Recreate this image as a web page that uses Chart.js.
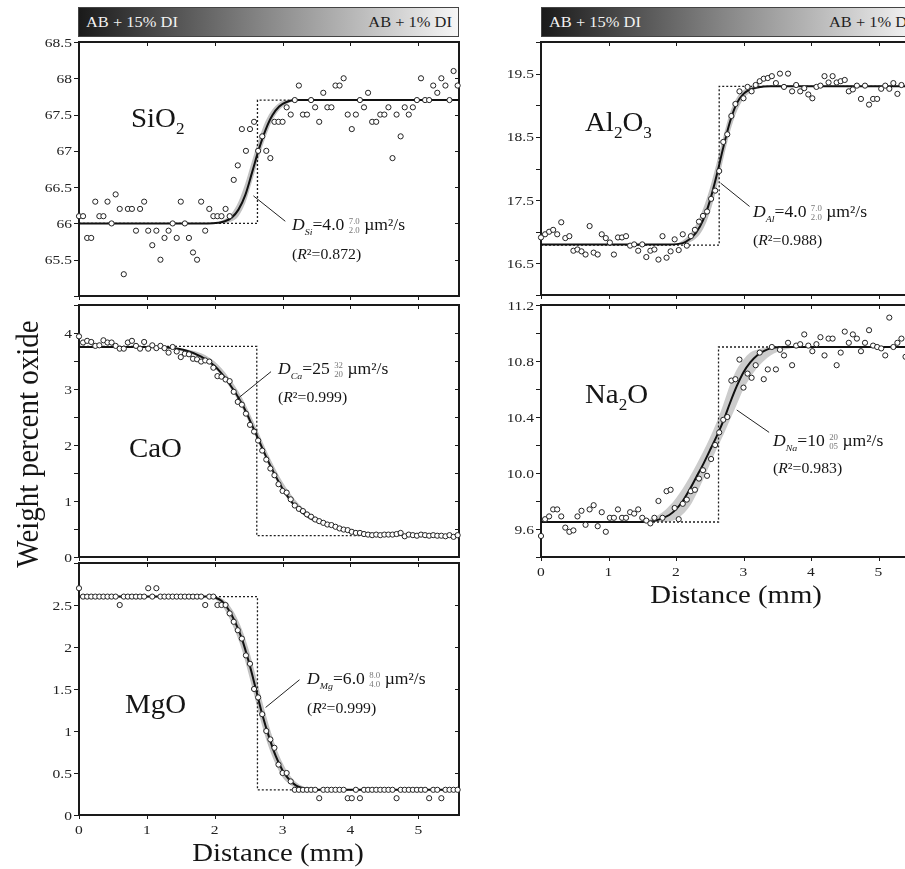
<!DOCTYPE html>
<html>
<head>
<meta charset="utf-8">
<script src="https://cdn.jsdelivr.net/npm/chart.js@4.4.1/dist/chart.umd.min.js"></script>
<style>
  html, body { margin: 0; padding: 0; background: #fff; width: 905px; height: 869px; overflow: hidden; }
  canvas { position: absolute; left: 0; top: 0; }
  .bar {
    position: absolute; top: 7px; height: 30px; box-sizing: border-box;
    border: 1px solid #444;
    background: linear-gradient(to right, #1a1a1a 0%, #4c4c4c 22%, #858585 48%, #bdbdbd 75%, #f6f6f6 100%);
    font: 15.5px "Liberation Serif", serif;
  }
  .bar span { position: absolute; top: 5px; white-space: nowrap; }
  .bar .l { left: 7px; color: #f2f2f2; transform: scaleX(1.06); transform-origin: left; }
  .bar .r { right: 6px; color: #1e1e1e; transform: scaleX(1.06); transform-origin: right; }
</style>
</head>
<body>
<div class="bar" style="left:78px;width:381px"><span class="l">AB + 15% DI</span><span class="r">AB + 1% DI</span></div>
<div class="bar" style="left:541px;width:378px"><span class="l">AB + 15% DI</span><span class="l" style="left:287px;color:#1e1e1e">AB + 1% DI</span></div>
<canvas id="si" width="930" height="869"></canvas>
<canvas id="ca" width="930" height="869"></canvas>
<canvas id="mg" width="930" height="869"></canvas>
<canvas id="al" width="930" height="869"></canvas>
<canvas id="na" width="930" height="869"></canvas>
<script>
// traverse positions (mm)
const distance = [0.00,0.06,0.12,0.18,0.24,0.30,0.36,0.42,0.48,0.54,0.60,0.66,0.72,0.78,0.84,0.90,0.96,1.02,1.08,1.14,
  1.20,1.26,1.32,1.38,1.44,1.50,1.56,1.62,1.68,1.74,1.80,1.86,1.92,1.98,2.04,2.10,2.16,2.22,2.28,2.34,
  2.40,2.46,2.52,2.58,2.64,2.70,2.76,2.82,2.88,2.94,3.00,3.06,3.12,3.18,3.24,3.30,3.36,3.42,3.48,3.54,
  3.60,3.66,3.72,3.78,3.84,3.90,3.96,4.02,4.08,4.14,4.20,4.26,4.32,4.38,4.44,4.50,4.56,4.62,4.68,4.74,
  4.80,4.86,4.92,4.98,5.04,5.10,5.16,5.22,5.28,5.34,5.40,5.46,5.52,5.58];
const xTicks = [0, 1, 2, 3, 4, 5];
const xTickLabels = ["0", "1", "2", "3", "4", "5"];

// SiO2
const siValues = [66.1,66.1,65.8,65.8,66.3,66.1,66.1,66.3,66.0,66.4,
  66.2,65.3,66.2,66.2,65.9,66.2,66.3,65.9,65.7,65.9,
  65.5,65.8,65.9,66.0,65.8,66.3,66.0,65.8,65.6,65.5,
  66.3,65.9,66.2,66.1,66.1,66.1,66.2,66.1,66.6,66.8,
  67.3,67.0,67.3,67.4,67.0,67.2,67.0,66.9,67.4,67.4,
  67.4,67.6,67.5,67.7,67.9,67.5,67.5,67.7,67.6,67.4,
  67.8,67.6,67.6,67.9,67.9,68.0,67.5,67.3,67.5,67.7,
  67.6,67.8,67.4,67.4,67.5,67.5,67.6,66.9,67.5,67.2,
  67.6,67.5,67.6,67.7,68.0,67.7,67.7,67.9,67.8,68.0,
  67.9,67.7,68.1,67.9];
const siFitX = [0, 1.9, 2.05, 2.15, 2.25, 2.35, 2.45, 2.55, 2.65, 2.75, 2.85, 2.95, 3.05, 3.2, 3.35, 5.6];
const siFitY = [66.0, 66.0, 66.01, 66.03, 66.08, 66.19, 66.39, 66.7, 67.02, 67.29, 67.49, 67.61, 67.67, 67.7, 67.7, 67.7];
const siBandX = [1.9, 2.05, 2.15, 2.25, 2.35, 2.45, 2.55, 2.65, 2.75, 2.85, 2.95, 3.05, 3.2, 3.35];
const siBandHi = [66.0, 66.02, 66.06, 66.14, 66.3, 66.55, 66.86, 67.16, 67.41, 67.57, 67.66, 67.7, 67.7, 67.7];
const siBandLo = [66.0, 66.0, 66.0, 66.03, 66.1, 66.28, 66.58, 66.9, 67.19, 67.42, 67.56, 67.64, 67.69, 67.7];
const siStepX = [0, 2.63, 2.63, 5.6];
const siStepY = [66.0, 66.0, 67.7, 67.7];
const siLeaderX = [2.57, 3.04];
const siLeaderY = [66.38, 66.03];
const siTicks = [65, 65.5, 66, 66.5, 67, 67.5, 68, 68.5];
const siTickLabels = ["", "65.5", "66", "66.5", "67", "67.5", "68", "68.5"];

// CaO
const caValues = [3.94,3.83,3.86,3.84,3.77,3.78,3.87,3.83,3.83,3.77,
  3.72,3.72,3.83,3.86,3.77,3.72,3.84,3.72,3.78,3.73,
  3.77,3.73,3.65,3.75,3.67,3.57,3.63,3.62,3.54,3.53,
  3.49,3.51,3.49,3.38,3.23,3.22,3.17,3.14,2.95,2.77,
  2.72,2.56,2.36,2.24,2.08,1.90,1.74,1.58,1.46,1.30,
  1.18,1.15,1.03,0.92,0.86,0.82,0.76,0.72,0.67,0.64,
  0.61,0.58,0.57,0.54,0.51,0.49,0.48,0.45,0.43,0.43,
  0.41,0.40,0.39,0.40,0.39,0.40,0.40,0.40,0.41,0.43,
  0.37,0.40,0.39,0.38,0.40,0.39,0.38,0.39,0.38,0.38,
  0.37,0.39,0.36,0.39];
const caFitX = [0, 1.0, 1.3, 1.6, 1.8, 2.0, 2.2, 2.4, 2.6, 2.8, 3.0, 3.2, 3.4, 3.6, 3.8, 4.0, 4.2, 4.5, 4.8, 5.6];
const caFitY = [3.75, 3.75, 3.74, 3.68, 3.58, 3.41, 3.12, 2.74, 2.22, 1.68, 1.22, 0.89, 0.7, 0.6, 0.53, 0.47, 0.43, 0.4, 0.39, 0.38];
const caBandX = [1.2, 1.5, 1.8, 2.0, 2.2, 2.4, 2.6, 2.8, 3.0, 3.2, 3.4, 3.6, 3.8, 4.0, 4.3, 4.6];
const caBandHi = [3.75, 3.72, 3.64, 3.49, 3.22, 2.85, 2.34, 1.8, 1.34, 1.0, 0.78, 0.65, 0.56, 0.49, 0.43, 0.4];
const caBandLo = [3.74, 3.68, 3.55, 3.37, 3.07, 2.67, 2.15, 1.62, 1.17, 0.86, 0.67, 0.57, 0.51, 0.46, 0.41, 0.39];
const caStepX = [0, 2.62, 2.62, 5.6];
const caStepY = [3.76, 3.76, 0.38, 0.38];
const caLeaderX = [2.33, 2.83];
const caLeaderY = [2.82, 3.31];
const caTicks = [0, 0.5, 1, 1.5, 2, 2.5, 3, 3.5, 4, 4.5];
const caTickLabels = ["0", "", "1", "", "2", "", "3", "", "4", ""];

// MgO
const mgValues = [2.7,2.6,2.6,2.6,2.6,2.6,2.6,2.6,2.6,2.6,
  2.5,2.6,2.6,2.6,2.6,2.6,2.6,2.7,2.6,2.7,
  2.6,2.6,2.6,2.6,2.6,2.6,2.6,2.6,2.6,2.6,
  2.6,2.5,2.6,2.6,2.5,2.5,2.5,2.4,2.3,2.2,
  2.1,1.9,1.8,1.5,1.4,1.2,1.0,0.9,0.8,0.6,
  0.5,0.5,0.4,0.3,0.3,0.3,0.3,0.3,0.3,0.2,
  0.3,0.3,0.3,0.3,0.3,0.3,0.2,0.2,0.3,0.2,
  0.3,0.3,0.3,0.3,0.3,0.3,0.3,0.3,0.2,0.3,
  0.3,0.3,0.3,0.3,0.3,0.3,0.2,0.3,0.3,0.2,
  0.3,0.3,0.3,0.3];
const mgFitX = [0, 1.9, 2.0, 2.1, 2.2, 2.3, 2.4, 2.5, 2.6, 2.7, 2.8, 2.9, 3.0, 3.1, 3.2, 3.3, 3.4, 5.6];
const mgFitY = [2.6, 2.6, 2.59, 2.55, 2.45, 2.3, 2.1, 1.83, 1.52, 1.2, 0.93, 0.7, 0.53, 0.42, 0.35, 0.32, 0.3, 0.3];
const mgBandX = [1.9, 2.0, 2.1, 2.2, 2.3, 2.4, 2.5, 2.6, 2.7, 2.8, 2.9, 3.0, 3.1, 3.2, 3.3, 3.4, 3.5];
const mgBandHi = [2.6, 2.6, 2.58, 2.51, 2.39, 2.21, 1.97, 1.67, 1.35, 1.06, 0.81, 0.62, 0.48, 0.39, 0.34, 0.31, 0.3];
const mgBandLo = [2.6, 2.57, 2.5, 2.37, 2.19, 1.97, 1.68, 1.37, 1.06, 0.8, 0.6, 0.45, 0.37, 0.32, 0.3, 0.3, 0.3];
const mgStepX = [0, 2.63, 2.63, 5.6];
const mgStepY = [2.6, 2.6, 0.3, 0.3];
const mgLeaderX = [2.75, 3.25];
const mgLeaderY = [1.28, 1.61];
const mgTicks = [0, 0.5, 1, 1.5, 2, 2.5, 3];
const mgTickLabels = ["0", "0.5", "1", "1.5", "2", "2.5", ""];

// Al2O3
const alValues = [16.91,16.96,17.0,17.03,16.96,17.15,16.9,16.93,16.7,16.72,
  16.69,16.64,17.09,16.67,16.64,16.96,16.9,16.83,16.64,16.91,
  16.91,16.93,16.78,16.8,16.7,16.8,16.6,16.7,16.72,16.56,
  16.93,16.59,16.69,16.88,16.71,16.96,16.78,16.93,17.03,17.16,
  17.25,17.32,17.52,17.65,17.96,18.42,18.54,18.83,19.02,19.22,
  19.11,19.29,19.22,19.32,19.38,19.42,19.43,19.46,19.35,19.5,
  19.29,19.5,19.22,19.32,19.22,19.27,19.17,19.11,19.29,19.31,
  19.46,19.36,19.46,19.36,19.38,19.4,19.22,19.25,19.31,19.1,
  19.31,19.01,19.1,19.1,19.26,19.31,19.26,19.35,19.18,19.32];
const alFitX = [0, 1.9, 2.1, 2.2, 2.3, 2.4, 2.5, 2.6, 2.7, 2.8, 2.9, 3.0, 3.1, 3.2, 3.4, 5.6];
const alFitY = [16.8, 16.8, 16.82, 16.88, 16.99, 17.18, 17.48, 17.88, 18.33, 18.74, 19.03, 19.18, 19.25, 19.28, 19.3, 19.3];
const alBandX = [1.9, 2.0, 2.1, 2.2, 2.3, 2.4, 2.5, 2.6, 2.7, 2.8, 2.9, 3.0, 3.1, 3.2, 3.4];
const alBandHi = [16.8, 16.81, 16.86, 16.96, 17.12, 17.36, 17.68, 18.08, 18.5, 18.88, 19.12, 19.24, 19.28, 19.3, 19.3];
const alBandLo = [16.8, 16.8, 16.8, 16.83, 16.9, 17.04, 17.3, 17.68, 18.15, 18.58, 18.9, 19.1, 19.2, 19.26, 19.3];
const alStepX = [0, 2.64, 2.64, 5.6];
const alStepY = [16.79, 16.79, 19.3, 19.3];
const alLeaderX = [2.66, 3.09];
const alLeaderY = [17.77, 17.4];
const alTicks = [16, 16.5, 17, 17.5, 18, 18.5, 19, 19.5, 20];
const alTickLabels = ["", "16.5", "", "17.5", "", "18.5", "", "19.5", ""];

// Na2O
const naValues = [9.55,9.67,9.69,9.74,9.74,9.69,9.61,9.58,9.59,9.69,
  9.73,9.63,9.74,9.77,9.62,9.72,9.58,9.68,9.68,9.74,
  9.68,9.68,9.72,9.71,9.74,9.68,9.66,9.64,9.68,9.8,
  9.68,9.87,9.88,9.75,9.67,9.78,9.81,9.87,9.88,9.96,
  10.02,9.98,10.1,10.2,10.29,10.38,10.4,10.66,10.67,10.81,
  10.61,10.71,10.68,10.77,10.86,10.67,10.74,10.9,10.74,10.88,
  10.84,10.93,10.77,10.91,10.92,10.99,10.91,10.87,10.92,10.97,
  10.84,10.96,10.96,10.77,10.86,11.01,10.93,10.99,10.96,10.87,
  10.93,11.02,10.91,10.9,10.89,10.84,11.11,10.9,10.93,10.96,
  10.83];
const naFitX = [0, 1.5, 1.7, 1.9, 2.0, 2.1, 2.2, 2.3, 2.4, 2.5, 2.6, 2.7, 2.8, 2.9, 3.0, 3.1, 3.2, 3.3, 3.4, 3.6, 5.6];
const naFitY = [9.65, 9.65, 9.66, 9.7, 9.74, 9.8, 9.88, 9.97, 10.06, 10.16, 10.26, 10.37, 10.5, 10.62, 10.72, 10.79, 10.84, 10.87, 10.89, 10.9, 10.9];
const naBandX = [1.4, 1.6, 1.8, 2.0, 2.2, 2.4, 2.5, 2.6, 2.7, 2.8, 2.9, 3.0, 3.1, 3.2, 3.4, 3.6, 3.8];
const naBandHi = [9.65, 9.67, 9.72, 9.82, 9.97, 10.15, 10.25, 10.36, 10.49, 10.63, 10.74, 10.81, 10.86, 10.88, 10.9, 10.9, 10.9];
const naBandLo = [9.65, 9.65, 9.65, 9.67, 9.76, 9.95, 10.06, 10.17, 10.27, 10.38, 10.49, 10.6, 10.68, 10.75, 10.84, 10.88, 10.9];
const naStepX = [0, 2.63, 2.63, 5.6];
const naStepY = [9.65, 9.65, 10.9, 10.9];
const naLeaderX = [2.9, 3.38];
const naLeaderY = [10.45, 10.29];
const naTicks = [9.4, 9.6, 9.8, 10.0, 10.2, 10.4, 10.6, 10.8, 11.0, 11.2];
const naTickLabels = ["", "9.6", "", "10.0", "", "10.4", "", "10.8", "", "11.2"];

const FAMILY = '"Liberation Serif", "Times New Roman", serif';
const INK = "#151515";

function font(size, style) {
  return (style ? style + " " : "") + size + "px " + FAMILY;
}

function xy(xs, ys) {
  return ys.map((y, i) => ({ x: xs[i], y: y }));
}

// text run with sub/superscripts, stretched a little sideways like the original
function rich(ctx, x, y, segs, sx) {
  ctx.save();
  ctx.textAlign = "left";
  ctx.textBaseline = "alphabetic";
  ctx.translate(x, y);
  ctx.scale(sx, 1);
  let cx = 0;
  segs.forEach(s => {
    ctx.font = s.f;
    ctx.fillStyle = s.c || INK;
    if (s.stack) {
      ctx.fillText(s.stack[0], cx, -6);
      ctx.fillText(s.stack[1], cx, 3);
      cx += Math.max(ctx.measureText(s.stack[0]).width, ctx.measureText(s.stack[1]).width);
    } else {
      ctx.fillText(s.t, cx, s.dy || 0);
      cx += ctx.measureText(s.t).width;
    }
  });
  ctx.restore();
}

function txt(ctx, s, x, y, f, align, sx) {
  ctx.save();
  ctx.font = f;
  ctx.textAlign = align;
  ctx.translate(x, y);
  ctx.scale(sx, 1);
  ctx.fillText(s, 0, 0);
  ctx.restore();
}

function noteLines(ctx, n) {
  rich(ctx, n.x, n.y1, [
    { t: "D", f: font(16, "italic") },
    { t: n.sub, f: font(9, "italic"), dy: 5 },
    { t: "=" + n.value + " ", f: font(16) },
    { stack: [n.hi, n.lo], f: font(8), c: "#777" },
    { t: " µm²/s", f: font(16) }
  ], 1.1);
  rich(ctx, n.x, n.y2, [
    { t: "(", f: font(15) },
    { t: "R", f: font(15, "italic") },
    { t: "²=" + n.r2 + ")", f: font(15) }
  ], 1.05);
}

function makePanel(id, p) {
  const datasets = [
    { type: "line", data: xy(p.bandX, p.bandHi), borderWidth: 0, pointRadius: 0, fill: "+1",
      backgroundColor: p.bandColor, cubicInterpolationMode: "monotone", order: 6 },
    { type: "line", data: xy(p.bandX, p.bandLo), borderWidth: 0, pointRadius: 0, fill: false,
      cubicInterpolationMode: "monotone", order: 7 },
    { type: "line", data: xy(p.stepX, p.stepY), borderColor: "#1e1e1e", borderWidth: 1.3, borderDash: [2, 2],
      pointRadius: 0, fill: false, order: 5 },
    { type: "line", data: xy(p.leaderX, p.leaderY), borderColor: "#222", borderWidth: 1,
      pointRadius: 0, fill: false, order: 4 },
    { type: "line", data: xy(p.fitX, p.fitY), borderColor: "#111", borderWidth: 2,
      pointRadius: 0, fill: false, cubicInterpolationMode: "monotone", order: 3 },
    { type: "scatter", data: xy(distance, p.values), pointRadius: 2.6, borderWidth: 1,
      borderColor: "#222", backgroundColor: "#fff", clip: false, order: 1 }
  ];

  const frame = {
    id: "frame",
    beforeDatasetsDraw(chart) {
      const { ctx, chartArea: a, scales } = chart;
      ctx.save();
      ctx.strokeStyle = "#1a1a1a";
      ctx.lineWidth = 1;
      ctx.beginPath();
      p.ticks.forEach(v => {
        const y = Math.round(scales.y.getPixelForValue(v)) + 0.5;
        ctx.moveTo(a.left - 5, y); ctx.lineTo(a.left, y);
        ctx.moveTo(a.right - 4, y); ctx.lineTo(a.right, y);
      });
      xTicks.forEach(v => {
        const x = Math.round(scales.x.getPixelForValue(v)) + 0.5;
        ctx.moveTo(x, a.top); ctx.lineTo(x, a.top + 4);
        ctx.moveTo(x, a.bottom); ctx.lineTo(x, a.bottom + 4);
      });
      ctx.stroke();
      ctx.lineWidth = 2;
      ctx.strokeRect(a.left, a.top, a.right - a.left, a.bottom - a.top);

      ctx.fillStyle = "#222";
      ctx.textBaseline = "middle";
      p.ticks.forEach((v, i) => {
        if (p.tickLabels[i]) {
          txt(ctx, p.tickLabels[i], a.left - 7, scales.y.getPixelForValue(v) + 1, font(13.5), "right", 1.15);
        }
      });
      if (p.xLabels) {
        ctx.textBaseline = "alphabetic";
        xTicks.forEach((v, i) => {
          txt(ctx, xTickLabels[i], scales.x.getPixelForValue(v), a.bottom + 19, font(13.5), "center", 1.15);
        });
      }
      ctx.restore();
    },
    afterDatasetsDraw(chart) {
      const ctx = chart.ctx;
      rich(ctx, p.label.x, p.label.y, p.label.segs, 1.07);
      noteLines(ctx, p.note);
      if (p.extra) p.extra(ctx, chart);
    }
  };

  return new Chart(document.getElementById(id), {
    type: "scatter",
    data: { datasets: datasets },
    options: {
      responsive: false,
      animation: false,
      devicePixelRatio: 1,
      events: [],
      layout: { padding: p.pad },
      plugins: { legend: { display: false }, tooltip: { enabled: false } },
      scales: {
        x: { type: "linear", min: 0, max: 5.6, display: false },
        y: { type: "linear", min: p.yMin, max: p.yMax, display: false }
      }
    },
    plugins: [frame]
  });
}

function bigLabel(s) { return { t: s, f: font(27) }; }
function subLabel(s) { return { t: s, f: font(16), dy: 7 }; }

makePanel("si", {
  values: siValues, fitX: siFitX, fitY: siFitY, bandX: siBandX, bandHi: siBandHi, bandLo: siBandLo,
  stepX: siStepX, stepY: siStepY, leaderX: siLeaderX, leaderY: siLeaderY, bandColor: "#c2c2c2",
  yMin: 65, yMax: 68.5, ticks: siTicks, tickLabels: siTickLabels, xLabels: false,
  pad: { left: 79, right: 471, top: 42, bottom: 573 },
  label: { x: 131, y: 127, segs: [bigLabel("SiO"), subLabel("2")] },
  note: { x: 292, y1: 230, y2: 259, sub: "Si", value: "4.0", hi: "7.0", lo: "2.0", r2: "0.872" }
});

makePanel("ca", {
  values: caValues, fitX: caFitX, fitY: caFitY, bandX: caBandX, bandHi: caBandHi, bandLo: caBandLo,
  stepX: caStepX, stepY: caStepY, leaderX: caLeaderX, leaderY: caLeaderY, bandColor: "#c2c2c2",
  yMin: 0, yMax: 4.5, ticks: caTicks, tickLabels: caTickLabels, xLabels: false,
  pad: { left: 79, right: 471, top: 305, bottom: 312 },
  label: { x: 129, y: 457, segs: [bigLabel("CaO")] },
  note: { x: 278, y1: 374, y2: 402, sub: "Ca", value: "25", hi: "32", lo: "20", r2: "0.999" },
  extra(ctx) {
    ctx.save();
    ctx.fillStyle = INK;
    ctx.font = font(29);
    ctx.textAlign = "center";
    ctx.textBaseline = "middle";
    ctx.translate(29, 444);
    ctx.rotate(-Math.PI / 2);
    ctx.scale(1, 1.12);
    ctx.fillText("Weight percent oxide", 0, 0);
    ctx.restore();
  }
});

makePanel("mg", {
  values: mgValues, fitX: mgFitX, fitY: mgFitY, bandX: mgBandX, bandHi: mgBandHi, bandLo: mgBandLo,
  stepX: mgStepX, stepY: mgStepY, leaderX: mgLeaderX, leaderY: mgLeaderY, bandColor: "#c2c2c2",
  yMin: 0, yMax: 3, ticks: mgTicks, tickLabels: mgTickLabels, xLabels: true,
  pad: { left: 79, right: 471, top: 563, bottom: 54 },
  label: { x: 125, y: 713, segs: [bigLabel("MgO")] },
  note: { x: 307, y1: 684, y2: 713, sub: "Mg", value: "6.0", hi: "8.0", lo: "4.0", r2: "0.999" },
  extra(ctx) {
    ctx.fillStyle = INK;
    txt(ctx, "Distance (mm)", 278, 861, font(25), "center", 1.15);
  }
});

makePanel("al", {
  values: alValues, fitX: alFitX, fitY: alFitY, bandX: alBandX, bandHi: alBandHi, bandLo: alBandLo,
  stepX: alStepX, stepY: alStepY, leaderX: alLeaderX, leaderY: alLeaderY, bandColor: "#c2c2c2",
  yMin: 16, yMax: 20, ticks: alTicks, tickLabels: alTickLabels, xLabels: false,
  pad: { left: 541, right: 11, top: 42, bottom: 574 },
  label: { x: 585, y: 131, segs: [bigLabel("Al"), subLabel("2"), bigLabel("O"), subLabel("3")] },
  note: { x: 753, y1: 217, y2: 245, sub: "Al", value: "4.0", hi: "7.0", lo: "2.0", r2: "0.988" }
});

makePanel("na", {
  values: naValues, fitX: naFitX, fitY: naFitY, bandX: naBandX, bandHi: naBandHi, bandLo: naBandLo,
  stepX: naStepX, stepY: naStepY, leaderX: naLeaderX, leaderY: naLeaderY, bandColor: "#cccccc",
  yMin: 9.4, yMax: 11.2, ticks: naTicks, tickLabels: naTickLabels, xLabels: true,
  pad: { left: 541, right: 11, top: 305, bottom: 312 },
  label: { x: 585, y: 403, segs: [bigLabel("Na"), subLabel("2"), bigLabel("O")] },
  note: { x: 773, y1: 446, y2: 473, sub: "Na", value: "10", hi: "20", lo: "05", r2: "0.983" },
  extra(ctx) {
    ctx.fillStyle = INK;
    txt(ctx, "Distance (mm)", 736, 603, font(25), "center", 1.15);
  }
});
</script>
</body>
</html>
